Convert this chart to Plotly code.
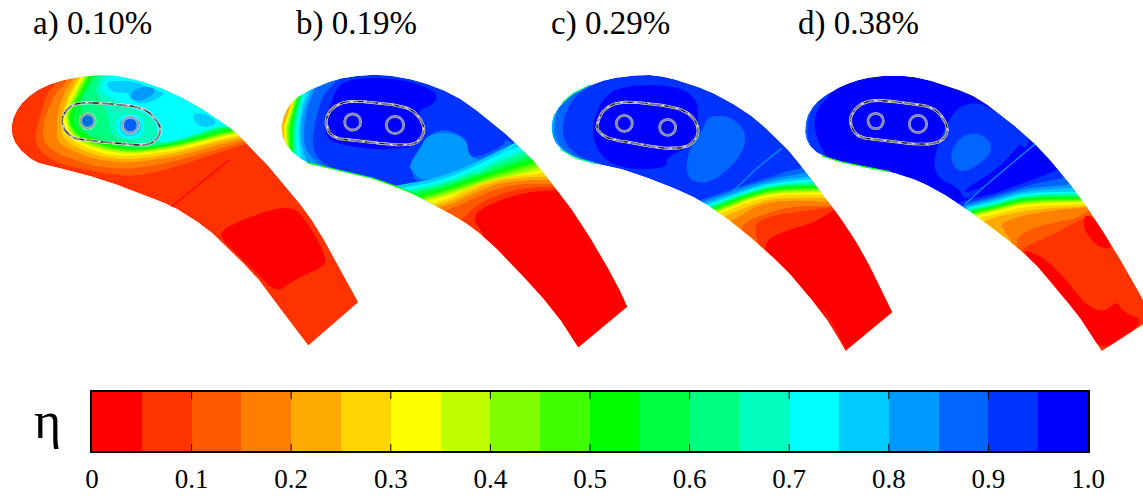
import numpy as np
import plotly.graph_objects as go

# ---- colour levels of the eta scale (0 .. 1.0 in 20 steps)
LEVELS = ["#ff0000","#ff3300","#ff5900","#ff8000","#ffaa00","#ffd500","#ffff00","#bfff00",
          "#80ff00","#40ff00","#00ff00","#00ff40","#00ff80","#00ffbf","#00ffff","#00ccff",
          "#0099ff","#0066ff","#0033ff","#0000ff"]
SCALE_EDGES = [i * 0.05 for i in range(21)]
TICK_VALUES = [0, 0.1, 0.2, 0.3, 0.4, 0.5, 0.6, 0.7, 0.8, 0.9, 1.0]
TICK_LABELS = ["0", "0.1", "0.2", "0.3", "0.4", "0.5", "0.6", "0.7", "0.8", "0.9", "1.0"]
CASE_LABELS = ["a) 0.10%", "b) 0.19%", "c) 0.29%", "d) 0.38%"]
CASE_LABEL_X = [31, 294, 549, 796]

# ---- blade a
A_ORIGIN = (0, 60)
A_OUTLINE = [(33,205),(40,170),(60,135),(90,105),(130,80),(180,62),(240,50),(310,44),(370,50),(430,65),(500,90),(580,130),(650,175),(700,210),(740,250),(790,300),(840,360),(900,430),(950,500),(1000,590),(1040,660),(1075,727),(925,857),(880,800),(830,730),(770,650),(700,580),(640,520),(570,470),(510,435),(440,410),(380,385),(310,360),(240,340),(170,322),(130,315),(95,300),(60,270),(40,240)]
A_BASE = 1
A_REGIONS = [
 (0, 0, [(650,520),(720,480),(870,432),(920,480),(985,600),(960,625),(880,660),(830,700),(770,640),(700,575)]),
 (2,-1, [(175,58),(140,100),(118,170),(105,230),(115,270),(170,310),(280,335),(380,350),(460,340),(560,310),(650,280),(745,250)]),
 (3,-1, [(205,56),(165,100),(135,170),(125,230),(150,270),(220,300),(290,320),(380,328),(470,315),(560,295),(640,270),(738,243)]),
 (4,-1, [(222,54),(190,100),(170,170),(170,240),(190,260),(270,295),(370,310),(460,300),(550,285),(640,258),(732,237)]),
 (5,-1, [(235,52),(205,100),(187,160),(183,220),(205,250),(280,285),(370,300),(470,290),(560,272),(650,245),(725,231)]),
 (6,-1, [(243,50),(215,100),(195,150),(188,200),(215,242),(290,277),(370,290),(470,280),(560,265),(650,238),(720,226)]),
 (7,-1, [(250,49),(222,100),(205,130),(193,180),(220,238),(300,270),(380,284),(470,274),(560,259),(650,232),(716,221)]),
 (8,-1, [(256,48),(230,100),(212,130),(196,180),(225,235),(300,265),(390,279),(470,270),(560,254),(650,228),(712,217)]),
 (9,-1, [(262,48),(236,100),(218,130),(200,180),(230,232),(305,261),(395,275),(470,266),(560,250),(650,224),(708,213)]),
 (10,-1,[(268,47),(240,100),(222,133),(203,180),(234,230),(310,257),(400,272),(470,263),(560,247),(650,220),(704,210)]),
 (11,-1,[(275,47),(246,100),(226,135),(215,190),(250,225),(320,250),(400,268),(470,260),(560,244),(650,215),(700,207)]),
 (12,-1,[(285,46),(255,100),(240,135),(250,160),(240,215),(320,245),(405,262),(470,257),(560,240),(650,205),(695,202)]),
 (13,-1,[(300,45),(285,90),(300,125),(320,150),(330,210),(345,235),(420,250),(480,245),(560,235),(640,205),(692,200)]),
 (14,-1,[(320,50),(300,75),(310,100),(350,125),(400,145),(470,180),(470,240),(490,250),(560,232),(640,200),(688,195)]),
 (14, 0,[(345,180),(385,158),(430,170),(435,220),(400,240),(355,230)]),
 (15, 0,[(310,65),(390,60),(470,90),(500,100),(450,130),(400,130),(385,95),(340,100)]),
 (15, 0,[(575,160),(620,160),(655,190),(615,205),(585,190)]),
 (15, 0,[(355,185),(385,165),(420,175),(425,215),(395,230),(365,225)]),
 (16, 0,[(395,95),(430,78),(470,85),(455,110),(415,125),(390,115)]),
]
A_FRINGES = [(0,[(515,440),(580,388),(690,298)])]
A_SLOT = [(183,180),(195,155),(215,135),(250,127),(320,130),(400,138),(440,150),(470,180),(483,205),(475,235),(450,253),(420,256),(350,250),(280,243),(225,238),(195,215)]
A_HOLES = [(263,183,22),(391,195,24)]
A_HOLE_LEVEL = 18

# ---- blade b
B_ORIGIN = (270, 60)
B_OUTLINE = [(33,205),(40,170),(60,130),(90,105),(130,85),(190,60),(250,48),(320,43),(390,50),(450,65),(510,85),(580,120),(650,175),(700,215),(735,248),(790,300),(850,375),(900,440),(950,515),(1000,600),(1040,670),(1072,740),(925,863),(880,790),(820,715),(760,650),(690,575),(630,520),(575,480),(510,445),(440,405),(380,380),(310,355),(240,340),(170,322),(130,315),(95,300),(60,270),(40,240)]
B_BASE = 18
B_REGIONS = [
 (19,0,[(205,75),(250,57),(340,52),(440,68),(505,100),(490,135),(440,150),(465,190),(465,230),(430,260),(395,265),(320,270),(220,255),(170,240),(165,185),(185,120)]),
 (17,0,[(470,225),(530,205),(600,235),(700,235),(740,255),(600,320),(440,380),(420,320)]),
 (18,0,[(510,100),(580,125),(650,178),(722,240),(660,280),(590,298),(596,240),(530,205),(490,180),(490,135)]),
 (16,0,[(470,225),(530,215),(590,235),(595,290),(640,300),(560,340),(460,365),(430,340),(415,315),(450,270)]),
 (17,1,[(205,58),(160,100),(135,180),(125,260),(145,300),(200,335),(300,352)]),
 (16,1,[(135,85),(110,140),(100,220),(105,270),(150,318)]),
 (15,1,[(125,88),(105,130),(92,190),(92,250),(110,305)]),
 (14,1,[(110,95),(97,130),(85,190),(85,240),(95,300)]),
 (13,1,[(100,100),(88,150),(78,210),(80,287)]),
 (12,1,[(95,103),(82,150),(72,210),(75,283)]),
 (11,1,[(92,105),(78,150),(68,210),(70,278)]),
 (10,1,[(88,107),(72,155),(63,210),(66,274)]),
 (9,1,[(84,110),(68,160),(58,210),(62,271)]),
 (8,1,[(80,113),(64,165),(53,210),(58,265)]),
 (7,1,[(76,117),(60,165),(49,210),(54,260)]),
 (6,1,[(72,120),(56,168),(45,205),(50,255)]),
 (5,1,[(67,125),(52,170),(41,205),(46,248)]),
 (4,1,[(63,130),(47,172),(37,205),(43,240)]),
 (15,1,[(370,378),(480,360),(580,325),(650,290),(735,250)]),
 (14,1,[(390,385),(490,368),(590,332),(660,295),(745,262)]),
 (13,1,[(400,392),(500,373),(600,338),(670,303),(755,272)]),
 (12,1,[(410,396),(505,378),(605,343),(680,310),(763,280)]),
 (11,1,[(420,402),(510,383),(610,348),(695,318),(772,292)]),
 (10,1,[(432,408),(515,388),(615,352),(705,325),(780,300)]),
 (9,1,[(445,412),(520,393),(620,357),(715,330),(788,308)]),
 (8,1,[(455,417),(525,398),(625,362),(725,335),(795,315)]),
 (7,1,[(462,420),(530,403),(630,367),(735,340),(803,323)]),
 (6,1,[(468,423),(535,408),(635,372),(740,345),(810,330)]),
 (5,1,[(482,431),(530,420),(600,380),(680,355),(760,345),(820,340)]),
 (4,1,[(492,437),(540,425),(600,392),(680,362),(760,352),(828,350)]),
 (3,1,[(505,442),(550,430),(600,405),(680,370),(760,360),(838,360)]),
 (2,1,[(525,452),(560,440),(600,420),(680,385),(760,370),(845,372)]),
 (1,1,[(575,480),(590,465),(610,440),(680,405),(760,382),(855,382)]),
 (0,1,[(640,525),(610,480),(625,450),(700,415),(780,395),(862,390)]),
]
B_FRINGES = [(14,[(620,342),(690,285),(735,250)]),(10,[(110,308),(170,322),(240,340),(310,355),(380,380),(440,405)])]
B_SLOT = [(167,180),(180,150),(205,132),(240,122),(320,128),(410,140),(445,165),(465,205),(455,235),(430,255),(370,255),(290,245),(215,240),(180,225),(170,200)]
B_HOLES = [(248,186,24),(375,195,26)]
B_HOLE_LEVEL = 19

# ---- blade c
C_ORIGIN = (540, 60)
C_OUTLINE = [(33,200),(40,165),(65,130),(100,100),(150,75),(210,55),(290,45),(350,45),(420,62),(500,90),(570,125),(640,170),(710,235),(760,285),(820,370),(870,430),(920,500),(970,580),(1010,660),(1057,757),(918,872),(870,790),(820,725),(750,640),(670,565),(600,505),(520,445),(460,410),(380,375),(300,345),(240,325),(170,312),(110,295),(65,270),(40,240)]
C_BASE = 18
C_REGIONS = [
 (19,0,[(205,95),(280,75),(370,75),(440,90),(475,130),(470,170),(480,230),(440,265),(380,290),(380,325),(270,330),(190,300),(155,230),(165,160)]),
 (17,0,[(500,170),(560,165),(610,200),(620,250),(585,310),(520,365),(460,370),(435,330),(450,260),(490,210)]),
 (17,1,[(480,420),(600,380),(700,345),(780,325)]),
 (16,1,[(488,425),(600,385),(700,355),(795,338)]),
 (15,1,[(495,430),(600,392),(700,362),(805,350)]),
 (14,1,[(502,434),(600,398),(700,368),(812,358)]),
 (13,1,[(507,437),(600,402),(700,372),(818,365)]),
 (12,1,[(510,440),(600,405),(700,375),(822,370)]),
 (11,1,[(513,443),(600,408),(700,378),(826,374)]),
 (10,1,[(517,446),(600,412),(700,382),(830,378)]),
 (9,1,[(521,448),(600,416),(700,386),(834,383)]),
 (8,1,[(525,451),(600,420),(700,390),(838,388)]),
 (7,1,[(529,454),(600,424),(700,394),(842,393)]),
 (6,1,[(534,457),(600,428),(700,398),(846,397)]),
 (5,1,[(540,460),(600,434),(700,404),(852,404)]),
 (4,1,[(552,470),(600,448),(700,412),(860,415)]),
 (3,1,[(570,485),(600,470),(640,440),(720,420),(868,425)]),
 (2,1,[(605,510),(610,490),(650,470),(740,440),(875,435)]),
 (1,1,[(655,552),(640,490),(700,465),(780,455),(880,440)]),
 (0,1,[(675,568),(680,540),(740,510),(820,490),(885,448)]),
 (17,1,[(175,62),(105,105),(70,170),(68,240),(105,285),(180,312)]),
 (16,1,[(115,85),(62,125),(42,185),(44,235),(80,280),(115,298)]),
 (15,1,[(85,105),(48,145),(36,190),(38,235),(60,266)]),
 (14,1,[(60,135),(36,165),(31,190),(34,225)]),
]
C_FRINGES = [(16,[(575,398),(650,325),(725,265)]),(12,[(65,130),(100,100),(150,75)]),(12,[(60,268),(110,295),(170,312)]),(1,[(850,750),(880,800),(918,872)])]
C_SLOT = [(170,195),(185,155),(220,130),(270,125),(350,133),(420,145),(460,170),(478,210),(465,245),(430,265),(360,265),(290,250),(220,240),(190,228),(172,210)]
C_HOLES = [(253,190,24),(383,202,24)]
C_HOLE_LEVEL = 19

# ---- blade d
D_ORIGIN = (790, 60)
D_OUTLINE = [(45,210),(50,170),(75,130),(115,100),(170,70),(240,50),(330,45),(400,55),(480,80),(560,110),(640,170),(730,245),(790,310),(870,410),(930,500),(980,580),(1020,650),(1059,715),(1080,780),(935,873),(870,770),(800,690),(750,625),(680,560),(590,490),(520,440),(450,395),(380,360),(300,335),(220,320),(150,305),(90,285),(60,260),(48,235)]
D_BASE = 19
D_REGIONS = [
 (18,0,[(430,320),(440,260),(490,150),(550,125),(600,140),(680,205),(735,250),(600,355),(555,405),(520,420),(510,385),(450,360)]),
 (19,0,[(520,390),(620,330),(680,265),(690,250),(720,280),(600,370),(535,400)]),
 (17,0,[(480,280),(510,230),(560,215),(610,250),(590,300),(520,340),(490,320)]),
 (19,0,[(570,392),(735,270),(780,320),(700,365),(600,395)]),
 (18,1,[(120,105),(85,140),(70,190),(85,250),(110,290)]),
 (17,1,[(85,125),(58,160),(50,210),(58,255),(85,282)]),
 (18,1,[(510,425),(600,405),(700,370),(790,335)]),
 (17,1,[(520,432),(600,412),(700,378),(815,355)]),
 (16,1,[(525,436),(600,418),(700,385),(830,375)]),
 (15,1,[(530,440),(600,424),(700,392),(845,385)]),
 (14,1,[(535,443),(600,430),(700,398),(855,395)]),
 (13,1,[(538,446),(600,434),(700,402),(860,400)]),
 (12,1,[(541,449),(600,438),(700,406),(864,403)]),
 (11,1,[(544,451),(600,441),(700,410),(868,407)]),
 (10,1,[(548,454),(600,444),(700,414),(872,412)]),
 (9,1,[(552,457),(600,447),(700,418),(875,416)]),
 (8,1,[(556,460),(600,450),(700,422),(878,420)]),
 (7,1,[(560,463),(600,453),(700,426),(880,423)]),
 (6,1,[(565,466),(600,457),(700,430),(884,427)]),
 (5,1,[(572,472),(610,465),(700,438),(888,432)]),
 (4,1,[(585,482),(620,470),(720,448),(892,438)]),
 (3,1,[(665,545),(640,510),(630,490),(700,465),(800,450),(895,442)]),
 (2,1,[(680,560),(680,530),(750,495),(850,480),(900,450)]),
 (1,1,[(700,578),(700,560),(800,520),(880,470),(910,470)]),
 (0,0,[(885,460),(920,480),(975,565),(930,565),(895,530),(880,500)]),
 (0,0,[(690,565),(760,590),(830,660),(880,730),(940,760),(980,720),(1000,760),(1070,780),(940,885),(860,775),(790,685),(740,620)]),
 (0,0,[(985,600),(1012,640),(1005,628)]),
]
D_FRINGES = [(16,[(525,432),(600,365),(735,252)]),(10,[(95,288),(150,305),(220,320),(300,335)])]
D_SLOT = [(177,180),(195,145),(225,125),(270,120),(340,128),(420,138),(455,165),(475,205),(465,235),(435,252),(375,253),(300,243),(235,238),(195,225)]
D_HOLES = [(257,183,23),(384,192,26)]
D_HOLE_LEVEL = 19

BLADES = [
 (A_ORIGIN,A_OUTLINE,A_BASE,A_REGIONS,A_FRINGES,A_SLOT,A_HOLES,A_HOLE_LEVEL),
 (B_ORIGIN,B_OUTLINE,B_BASE,B_REGIONS,B_FRINGES,B_SLOT,B_HOLES,B_HOLE_LEVEL),
 (C_ORIGIN,C_OUTLINE,C_BASE,C_REGIONS,C_FRINGES,C_SLOT,C_HOLES,C_HOLE_LEVEL),
 (D_ORIGIN,D_OUTLINE,D_BASE,D_REGIONS,D_FRINGES,D_SLOT,D_HOLES,D_HOLE_LEVEL),
]

SERIF = "Liberation Serif"
fig = go.Figure()


def smooth_path(points, passes=3):
    """Corner-cutting so read-off contours are not drawn as straight chords."""
    p = np.asarray(points, dtype=float)
    for _ in range(passes):
        q = 0.75 * p[:-1] + 0.25 * p[1:]
        r = 0.25 * p[:-1] + 0.75 * p[1:]
        mid = np.empty((2 * len(q), 2))
        mid[0::2], mid[1::2] = q, r
        p = np.vstack([p[:1], mid, p[-1:]])
    return p


def smooth_loop(points, passes=3):
    p = np.asarray(points, dtype=float)
    for _ in range(passes):
        n = np.roll(p, -1, axis=0)
        out = np.empty((2 * len(p), 2))
        out[0::2], out[1::2] = 0.75 * p + 0.25 * n, 0.25 * p + 0.75 * n
        p = out
    return p


def densify(points, step=4.0):
    pts = np.vstack([points, points[:1]])
    seg = np.hypot(*np.diff(pts, axis=0).T)
    keep = np.r_[True, seg > 1e-9]
    pts = pts[keep]
    s = np.r_[0, np.cumsum(np.hypot(*np.diff(pts, axis=0).T))]
    t = np.arange(0, s[-1], step)
    return np.c_[np.interp(t, s, pts[:, 0]), np.interp(t, s, pts[:, 1])]


def blade_ring(outline):
    """Outline smoothed everywhere except at the two square corners of the tail."""
    p = np.asarray(outline, dtype=float)
    a = p - np.roll(p, 1, axis=0)
    b = np.roll(p, -1, axis=0) - p
    turn = np.abs(np.arctan2(a[:, 0] * b[:, 1] - a[:, 1] * b[:, 0], (a * b).sum(axis=1)))
    c1, c2 = sorted(np.argsort(turn)[-2:])
    tail = p[c1:c2 + 1]
    rest = np.vstack([p[c2:], p[:c1 + 1]])
    return densify(np.vstack([tail, smooth_path(rest, 2)[1:-1]]))


def closed_region(curve, ring, direction):
    """Close an open contour along the blade outline."""
    if direction == 0:
        return smooth_loop(curve)
    c = smooth_path(curve)
    n = len(ring)
    i_end = int(np.argmin(np.hypot(*(ring - c[-1]).T)))
    i_start = int(np.argmin(np.hypot(*(ring - c[0]).T)))
    count = ((i_start - i_end) * direction) % n
    idx = [(i_end + direction * k) % n for k in range(count + 1)]
    return np.vstack([c, ring[idx]])


def outer_ring(ring, dist):
    prev = np.roll(ring, 1, axis=0)
    nxt = np.roll(ring, -1, axis=0)
    tan = nxt - prev
    tan /= np.maximum(np.hypot(*tan.T), 1e-9)[:, None]
    nrm = np.c_[tan[:, 1], -tan[:, 0]]
    x, y = ring.T
    area = 0.5 * np.sum(x * np.roll(y, -1) - np.roll(x, -1) * y)
    sign = 1 if area > 0 else -1
    return ring + sign * dist * nrm


def to_px(origin, pts):
    p = np.asarray(pts, dtype=float)
    return origin[0] + p[:, 0] / 3.0, origin[1] + p[:, 1] / 3.0


def add_fill(origin, pts, color):
    x, y = to_px(origin, pts)
    fig.add_trace(go.Scatter(x=x, y=y, mode="lines", fill="toself", fillcolor=color,
                             line=dict(width=0, color=color), hoverinfo="skip", showlegend=False))


def add_line(origin, pts, color, width, dash="solid"):
    x, y = to_px(origin, pts)
    fig.add_trace(go.Scatter(x=x, y=y, mode="lines", line=dict(width=width, color=color, dash=dash),
                             hoverinfo="skip", showlegend=False))


for origin, outline, base, regions, fringes, slot, holes, hole_level in BLADES:
    ring = blade_ring(outline)
    add_fill(origin, ring, LEVELS[base])
    for level, direction, curve in regions:
        add_fill(origin, closed_region(curve, ring, direction), LEVELS[level])
    # white collar hides whatever runs past the blade's edge
    outer = outer_ring(ring, 27.0)
    collar = np.vstack([ring, ring[:1], outer[:1], outer[::-1]])
    add_fill(origin, collar, "#ffffff")
    for level, pts in fringes:
        add_line(origin, pts, LEVELS[level], 1.2)
    loop = smooth_loop(slot)
    loop = np.vstack([loop, loop[:1]])
    add_line(origin, loop, "#ffffff", 2.8)
    add_line(origin, loop, "#777777", 2.0)
    add_line(origin, loop, "#111111", 1.0, "5px,13px")
    add_line(origin, loop, "#ffffff", 1.0, "3px,11px")
    hx, hy = to_px(origin, [(h[0], h[1]) for h in holes])
    sizes = [2 * h[2] / 3.0 for h in holes]
    fig.add_trace(go.Scatter(x=hx, y=hy, mode="markers", hoverinfo="skip", showlegend=False,
                             marker=dict(size=sizes, color=LEVELS[hole_level],
                                         line=dict(width=2.8, color="#ffffff"))))
    fig.add_trace(go.Scatter(x=hx, y=hy, mode="markers", hoverinfo="skip", showlegend=False,
                             marker=dict(size=sizes, color="rgba(0,0,0,0)",
                                         line=dict(width=1.8, color="#777777"))))

# ---- eta scale
mids = [(SCALE_EDGES[i] + SCALE_EDGES[i + 1]) / 2 for i in range(20)]
cscale = []
for i, c in enumerate(LEVELS):
    cscale += [[i / 20, c], [(i + 1) / 20, c]]
fig.add_trace(go.Heatmap(x=SCALE_EDGES, y=[0, 1], z=[mids], zmin=0, zmax=1, colorscale=cscale,
                         showscale=False, hoverinfo="skip", xaxis="x2", yaxis="y2"))
# inside tick marks, top and bottom of the scale
tick_x, tick_y = [], []
for v in TICK_VALUES[1:-1]:
    tick_x += [v, v, None, v, v, None]
    tick_y += [0, 0.12, None, 0.88, 1, None]
fig.add_trace(go.Scatter(x=tick_x, y=tick_y, mode="lines", line=dict(color="#000000", width=1),
                         hoverinfo="skip", showlegend=False, xaxis="x2", yaxis="y2"))

for text, x in zip(CASE_LABELS, CASE_LABEL_X):
    fig.add_annotation(x=x, y=23, xref="x", yref="y", text=text, showarrow=False, xanchor="left",
                       yanchor="middle", font=dict(family=SERIF, size=33, color="#000000"))
fig.add_annotation(x=47, y=420, xref="x", yref="y", text="η", showarrow=False, xanchor="center",
                   yanchor="middle", font=dict(family=SERIF, size=52, color="#000000"))

W, H = 1143, 499
fig.update_layout(
    template="none",
    width=W, height=H, margin=dict(l=0, r=0, t=0, b=0, autoexpand=False), paper_bgcolor="#ffffff", plot_bgcolor="rgba(0,0,0,0)",
    showlegend=False, hovermode=False,
    xaxis=dict(range=[0, W], domain=[0, 1], visible=False, fixedrange=True, automargin=False),
    yaxis=dict(range=[H, 0], domain=[0, 1], visible=False, fixedrange=True, automargin=False),
    xaxis2=dict(range=[0, 1], domain=[92 / W, 1088 / W], anchor="y2", tickvals=TICK_VALUES, ticktext=TICK_LABELS,
                ticks="", showline=True, linecolor="#000000",
                linewidth=1.5, mirror=True, showgrid=False, zeroline=False, fixedrange=True, automargin=False,
                tickfont=dict(family=SERIF, size=27, color="#000000"), ticklabelstandoff=3),
    yaxis2=dict(range=[0, 1], domain=[(H - 451) / H, (H - 392) / H], anchor="x2", showticklabels=False, ticks="",
                showline=True, linecolor="#000000", linewidth=1.5, mirror=True, showgrid=False, zeroline=False,
                fixedrange=True, automargin=False),
)

fig.write_html("out.html", config={"displayModeBar": False},
               post_script="document.body.style.margin='0';document.body.style.overflow='hidden';")
